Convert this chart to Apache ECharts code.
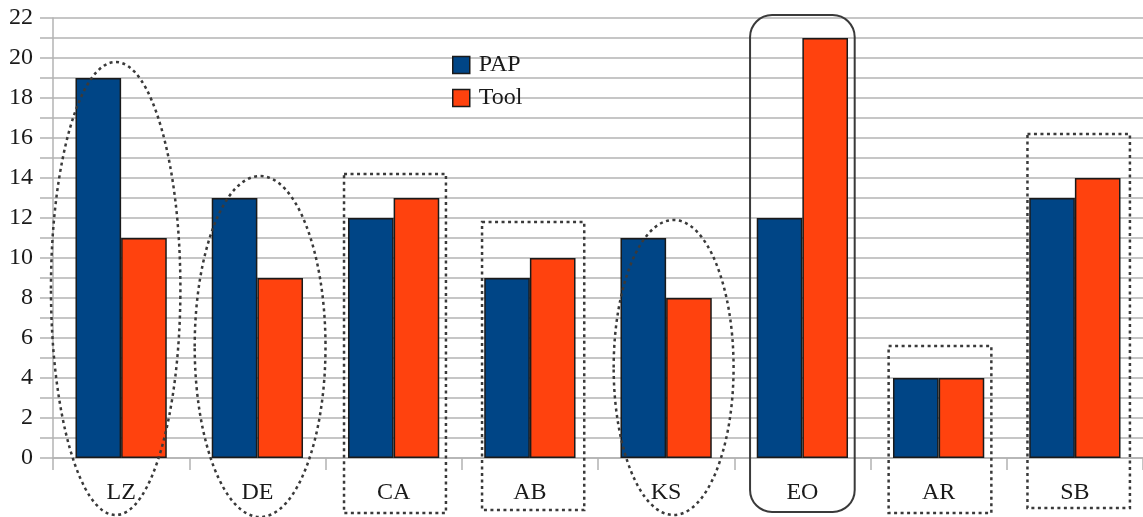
<!DOCTYPE html>
<html>
<head>
<meta charset="utf-8">
<script src="https://cdn.jsdelivr.net/npm/echarts@6/dist/echarts.min.js"></script>
<style>
  html, body { margin: 0; padding: 0; background: #ffffff; }
  #chart { width: 1143px; height: 517px; }
</style>
</head>
<body>
<div id="chart"></div>
<script>
// Categories and series values
const categories = ['LZ', 'DE', 'CA', 'AB', 'KS', 'EO', 'AR', 'SB'];
const papValues  = [19, 13, 12, 9, 11, 12, 4, 13];
const toolValues = [11, 9, 13, 10, 8, 21, 4, 14];
const seriesNames = ['PAP', 'Tool'];

// Outline shapes drawn around category groups (x in category units, y in axis values)
const outlines = [
  { cat: 'LZ', kind: 'ellipse', dx: -0.04, half: 0.475, top: 19.8, bottom: -2.85 },
  { cat: 'DE', kind: 'ellipse', dx: 0.02,  half: 0.48,  top: 14.1, bottom: -2.95 },
  { cat: 'CA', kind: 'box',     dx: 0.01,  half: 0.374, top: 14.2, bottom: -2.75 },
  { cat: 'AB', kind: 'box',     dx: 0.024, half: 0.375, top: 11.8, bottom: -2.6 },
  { cat: 'KS', kind: 'ellipse', dx: 0.055, half: 0.44,  top: 11.9, bottom: -2.85 },
  { cat: 'EO', kind: 'rounded', dx: 0.0,   half: 0.384, top: 22.15, bottom: -2.7 },
  { cat: 'AR', kind: 'box',     dx: 0.01,  half: 0.377, top: 5.6,  bottom: -2.75 },
  { cat: 'SB', kind: 'box',     dx: 0.028, half: 0.376, top: 16.2, bottom: -2.5 }
];

const FONT = '"Liberation Serif", "Times New Roman", serif';
const chart = echarts.init(document.getElementById('chart'), null, { renderer: 'canvas' });

const option = {
  animation: false,
  backgroundColor: '#ffffff',
  grid: { left: 53, top: 18, width: 1096, height: 440, containLabel: false },
  legend: {
    orient: 'vertical',
    left: 447,
    top: 48,
    itemWidth: 17,
    itemHeight: 17,
    itemGap: 9,
    icon: 'rect',
    itemStyle: { borderColor: '#1a1a1a', borderWidth: 1.5 },
    textStyle: { fontFamily: FONT, fontSize: 24, color: '#1a1a1a', padding: [3, 0, 0, 4] },
    data: seriesNames
  },
  xAxis: {
    type: 'category',
    data: categories,
    boundaryGap: true,
    axisLine: { lineStyle: { color: '#b3b3b3', width: 1.5 } },
    axisTick: { show: true, length: 12, lineStyle: { color: '#b3b3b3', width: 1.5 } },
    axisLabel: { fontFamily: FONT, fontSize: 24, color: '#1a1a1a', margin: 23 },
    splitLine: { show: false }
  },
  yAxis: {
    type: 'value',
    min: 0,
    max: 22,
    interval: 1,
    axisLine: { show: true, lineStyle: { color: '#b3b3b3', width: 1.5 } },
    axisTick: { show: true, length: 13, lineStyle: { color: '#b3b3b3', width: 1.5 } },
    axisLabel: {
      fontFamily: FONT, fontSize: 24, color: '#1a1a1a', margin: 20,
      formatter: v => (v % 2 === 0 ? String(v) : '')
    },
    splitLine: { show: true, lineStyle: { color: '#b3b3b3', width: 1.5 } }
  },
  series: [
    {
      name: seriesNames[0], type: 'bar', data: papValues,
      barGap: '0%', barCategoryGap: '33%',
      itemStyle: { color: '#004586', borderColor: '#1a1a1a', borderWidth: 1.5 }
    },
    {
      name: seriesNames[1], type: 'bar', data: toolValues,
      barGap: '0%', barCategoryGap: '33%',
      itemStyle: { color: '#ff420e', borderColor: '#1a1a1a', borderWidth: 1.5 }
    }
  ]
};
chart.setOption(option);

// Place the outline shapes through the axes' own scales
function drawOutlines() {
  const c0 = chart.convertToPixel({ xAxisIndex: 0 }, categories[0]);
  const c1 = chart.convertToPixel({ xAxisIndex: 0 }, categories[1]);
  const band = c1 - c0;
  const elements = outlines.map(o => {
    const cx = chart.convertToPixel({ xAxisIndex: 0 }, o.cat) + o.dx * band;
    const yTop = chart.convertToPixel({ yAxisIndex: 0 }, o.top);
    const yBot = chart.convertToPixel({ yAxisIndex: 0 }, o.bottom);
    const hw = o.half * band;
    if (o.kind === 'ellipse') {
      return {
        type: 'ellipse', z: 100, silent: true,
        shape: { cx: cx, cy: (yTop + yBot) / 2, rx: hw, ry: (yBot - yTop) / 2 },
        style: { fill: null, stroke: '#3a3a3a', lineWidth: 2.5, lineDash: [3, 3.5] }
      };
    }
    if (o.kind === 'rounded') {
      return {
        type: 'rect', z: 100, silent: true,
        shape: { x: cx - hw, y: yTop, width: 2 * hw, height: yBot - yTop, r: 22 },
        style: { fill: null, stroke: '#3a3a3a', lineWidth: 2 }
      };
    }
    return {
      type: 'rect', z: 100, silent: true,
      shape: { x: cx - hw, y: yTop, width: 2 * hw, height: yBot - yTop },
      style: { fill: null, stroke: '#3a3a3a', lineWidth: 2.5, lineDash: [3, 3.5] }
    };
  });
  chart.setOption({ graphic: { elements: elements } });
}
drawOutlines();
</script>
</body>
</html>
